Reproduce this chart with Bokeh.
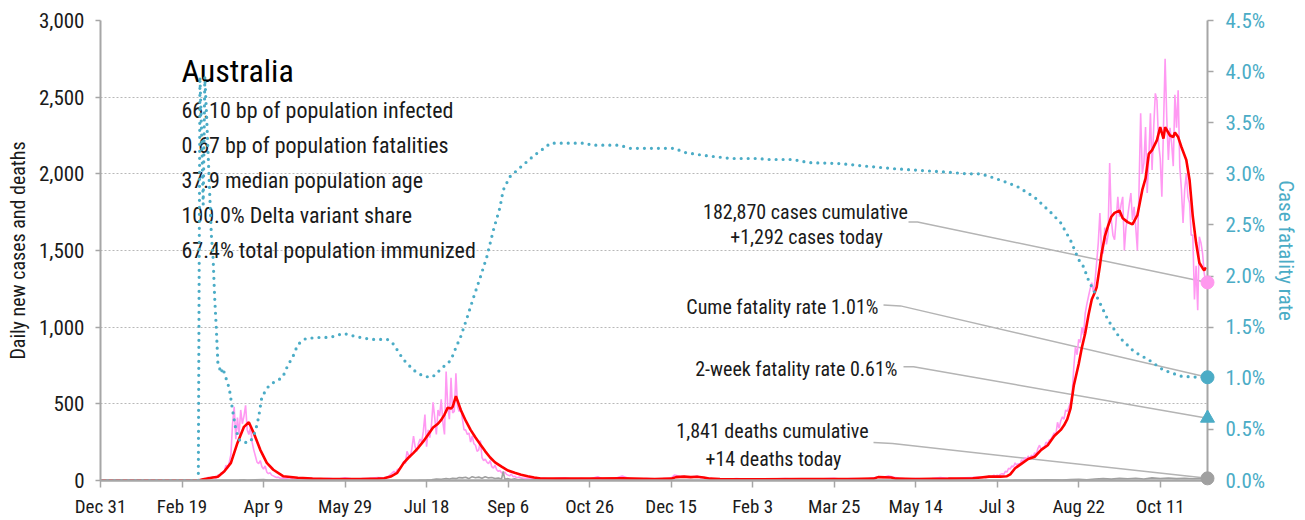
import pandas as pd
from bokeh.plotting import figure
from bokeh.models import Range1d, LinearAxis, FixedTicker, NumeralTickFormatter, PrintfTickFormatter, Label
from bokeh.embed import file_html
from bokeh.resources import INLINE

# ---------------- data ----------------
START = "2019-12-31"
tick_dates = ["2019-12-31", "2020-02-19", "2020-04-09", "2020-05-29", "2020-07-18", "2020-09-06",
              "2020-10-26", "2020-12-15", "2021-02-03", "2021-03-25", "2021-05-14", "2021-07-03",
              "2021-08-22", "2021-10-11"]
tick_labels = ["Dec 31", "Feb 19", "Apr 9", "May 29", "Jul 18", "Sep 6", "Oct 26", "Dec 15",
               "Feb 3", "Mar 25", "May 14", "Jul 3", "Aug 22", "Oct 11"]
last_day = 679

# daily new cases (pink), day offset from Dec 31 2019
case_days = [0, 25, 40, 55, 60,
             61, 62, 63, 64, 65, 66, 67, 68, 69, 70, 71, 72, 73, 74, 75, 76, 77, 78, 79, 80,
             81, 82, 83, 84, 85, 86, 87, 88, 89, 90, 91, 92, 93, 94, 95, 96, 97, 98, 99, 100,
             101, 102, 103, 104, 105, 106, 107, 108, 109, 110, 112, 114, 116, 118, 120, 123, 126, 130,
             135, 140, 145, 150, 155, 160, 165, 170, 173,
             175, 176, 177, 178, 179, 180, 181, 182, 183, 184, 185, 186, 187, 188, 189, 190,
             191, 192, 193, 194, 195, 196, 197, 198, 199, 200, 201, 202, 203, 204, 205, 206,
             207, 208, 209, 210, 211, 212, 213, 214, 215, 216, 217, 218, 219, 220, 221, 222,
             223, 224, 225, 226, 227, 228, 229, 230, 231, 232, 233, 234, 235, 236, 237, 238,
             239, 240, 241, 242, 243, 244, 245, 246, 247, 248, 249, 250, 251, 252, 253, 254,
             255, 256, 257, 258, 259, 260, 262, 265,
             268, 272, 276, 280, 285, 290, 295, 300, 305, 308, 315, 320, 325, 330, 335, 340, 345,
             350, 352, 354, 356, 358, 360, 362, 364, 366, 368, 370, 372, 375,
             380, 385, 390, 395, 400, 410, 420, 430, 440, 450, 455, 460, 470, 478, 480, 483, 486,
             490, 495, 500, 505, 510, 515, 520, 525, 530, 535, 540,
             541, 542, 543, 544, 545, 546, 547, 548, 549, 550, 551, 552, 553, 554, 555, 556,
             557, 558, 559, 560, 561, 562, 563, 564, 565, 566, 567, 568, 569, 570, 571, 572,
             573, 574, 575, 576, 577, 578, 579, 580, 581, 582, 583, 584, 585, 586, 587, 588,
             589, 590, 591, 592, 593, 594, 595, 596, 597, 598, 599, 600, 601, 602, 603, 604,
             605, 606, 607, 608, 609, 610, 611, 612, 613, 614, 615, 616, 617, 618, 619, 620,
             621, 622, 623, 624, 625, 626, 627, 628, 629, 630, 631, 632, 633, 634, 635, 636,
             637, 638, 639, 640, 641, 642, 643, 644, 645, 646, 647, 648, 649, 650, 651, 652,
             653, 654, 655, 656, 657, 658, 659, 660, 661, 662, 663, 664, 665, 666, 667, 668,
             669, 670, 671, 672, 673, 674, 675, 676, 677, 678]
case_values = [0, 4, 1, 0, 3,
               4, 6, 10, 12, 8, 22, 11, 18, 25, 20, 15, 37, 28, 50, 45, 65, 100, 80, 120, 170,
               370, 480, 270, 410, 300, 460, 370, 420, 490, 330, 300, 350, 250, 200, 160, 120, 110, 130, 90, 75,
               95, 55, 45, 50, 35, 30, 25, 20, 22, 15, 16, 12, 20, 10, 8, 15, 10, 12,
               10, 14, 8, 18, 10, 12, 15, 20, 18,
               20, 25, 30, 40, 50, 60, 45, 70, 75, 80, 100, 125, 110, 190, 165, 150,
               210, 290, 220, 190, 240, 270, 250, 320, 430, 220, 330, 280, 360, 510, 410, 300,
               460, 420, 530, 380, 300, 710, 480, 400, 670, 440, 450, 700, 480, 450, 470, 400,
               330, 330, 300, 310, 250, 290, 240, 230, 190, 200, 260, 150, 130, 140, 120, 110,
               130, 90, 80, 100, 70, 60, 65, 50, 45, 55, 40, 35, 30, 42, 25, 28,
               20, 20, 22, 18, 15, 14, 12, 12,
               12, 15, 10, 14, 18, 8, 12, 10, 25, 10, 12, 30, 10, 8, 12, 10, 12,
               15, 35, 30, 25, 28, 20, 22, 25, 30, 18, 20, 15, 12,
               10, 8, 12, 10, 8, 10, 12, 8, 10, 14, 8, 12, 10, 25, 20, 30, 22,
               15, 10, 12, 10, 12, 20, 15, 12, 18, 20, 22,
               20, 25, 18, 22, 30, 25, 28, 35, 24, 35, 30, 40, 45, 38, 60, 55,
               80, 75, 95, 90, 115, 100, 110, 105, 135, 120, 150, 130, 160, 140, 165, 155,
               180, 170, 210, 230, 200, 215, 220, 250, 240, 265, 270, 290, 310, 300, 380, 340,
               390, 415, 400, 460, 450, 480, 510, 570, 740, 870, 820, 920, 900, 1000, 950, 1090,
               1150, 1200, 1250, 1290, 1230, 1300, 1420, 1550, 1745, 1500, 1480, 1650, 1540, 1600, 2070, 1700,
               1600, 1570, 1700, 1850, 1720, 1800, 1850, 1500, 1650, 1720, 1800, 1875, 1700, 1785, 1650, 1500,
               1900, 2395, 2000, 2070, 2305, 1875, 2100, 2395, 2025, 2300, 2525, 2480, 2200, 2100, 1850, 2300,
               2750, 2370, 2090, 2300, 2200, 2050, 2515, 2300, 2545, 2045, 1900, 1680, 1895, 2000, 1850, 1810,
               1600, 1600, 1180, 1400, 1110, 1590, 1550, 1480, 1350, 1292]

# 7-day average of new cases (red)
avg_days = [0, 60, 63, 68, 72, 76, 80, 84, 88, 91, 94, 98, 102, 106, 112, 121, 130, 140, 150, 160,
            170, 174, 178, 182, 186, 189, 192, 195, 198, 201, 204, 207, 209, 211, 213, 215, 216,
            218, 219, 221, 224, 227, 230, 233, 236, 239, 242, 246, 250, 254, 258, 262, 266, 270,
            280, 300, 320, 340, 350, 353, 358, 362, 366, 370, 374, 380, 400, 430, 460, 474, 477,
            485, 488, 500, 520, 535, 540, 545, 552, 556, 558, 561, 565, 569, 573, 577, 581, 585,
            589, 591, 593, 595, 597, 600, 602, 604, 606, 608, 610, 611, 613, 614, 616, 618, 620,
            622, 625, 627, 630, 633, 636, 639, 641, 643, 645, 648, 650, 652, 653, 656, 658, 659,
            661, 663, 666, 668, 670, 672, 674, 676, 677, 678]
avg_values = [0, 0, 8, 18, 25, 60, 115, 245, 350, 380, 310, 200, 115, 70, 28, 18, 12, 10, 9, 10,
              12, 15, 26, 50, 115, 150, 180, 215, 255, 300, 345, 370, 395, 430, 475, 470, 480,
              550, 520, 460, 390, 330, 280, 235, 190, 150, 118, 90, 65, 50, 38, 28, 20, 13,
              12, 13, 14, 10, 12, 22, 25, 22, 24, 20, 12, 10, 8, 9, 10, 12, 22,
              20, 12, 10, 12, 15, 20, 25, 25, 28, 40, 80, 110, 140, 155, 200, 230, 290,
              330, 360, 400, 470, 620, 760, 870, 960, 1080, 1180, 1230, 1260, 1400, 1480, 1590, 1660, 1720,
              1745, 1760, 1710, 1685, 1670, 1730, 1895, 1970, 2130, 2155, 2220, 2305, 2230, 2305, 2250, 2240, 2270,
              2240, 2175, 2090, 1960, 1720, 1550, 1420, 1385, 1370, 1390]

# daily deaths (grey)
death_days = [0, 60, 61, 70, 75, 80, 85, 88, 90, 95, 100, 103, 106, 110, 115, 120, 150, 180, 195,
              200, 203, 206, 209, 212, 214, 216, 218, 220, 222, 224, 226, 228, 230, 232, 234, 236,
              238, 240, 242, 244, 246, 247, 248, 250, 252, 254, 256, 258, 260, 263, 266, 270, 275,
              300, 400, 500, 560, 570, 580, 590, 595, 600, 605, 610, 615, 620, 625, 630, 635, 640,
              645, 650, 655, 660, 665, 670, 675, 678]
death_values = [0, 0, 1, 0, 1, 2, 3, 5, 2, 4, 6, 3, 5, 2, 1, 0, 0, 0, 1,
                3, 5, 10, 8, 13, 10, 15, 12, 19, 17, 21, 12, 25, 18, 22, 15, 25,
                17, 20, 13, 16, 10, 59, 8, 12, 7, 11, 5, 8, 3, 2, 4, 1, 0,
                0, 0, 0, 1, 2, 4, 3, 6, 8, 5, 10, 12, 9, 14, 11, 15, 10,
                17, 13, 16, 12, 15, 11, 13, 14]

# case fatality rate, % (blue dotted, right axis)
cfr_days = [0, 60, 61, 62, 63, 64, 65, 66, 67, 68, 69, 70, 71, 72, 73, 74, 75, 77, 79, 81, 83,
            85, 88, 92, 95, 97, 99, 103, 107, 111, 112, 115, 118, 121, 126, 135, 141, 149, 156,
            166, 176, 180, 183, 186, 192, 198, 203, 206, 209, 212, 215, 218, 221, 225, 229, 233,
            237, 241, 245, 247, 251, 258, 266, 272, 276, 298, 301, 318, 325, 352, 358, 370, 387,
            404, 409, 425, 434, 454, 466, 487, 516, 532, 540, 548, 557, 563, 573, 583, 589, 595,
            600, 603, 606, 612, 618, 625, 634, 643, 652, 663, 673, 678]
cfr_values = [0, 0, 3.95, 3.4, 2.7, 3.95, 3.6, 3.2, 2.8, 2.4, 2.2, 1.8, 1.5, 1.15, 1.1, 1.05, 1.1, 1.0, 0.9, 0.69, 0.5,
              0.4, 0.37, 0.38, 0.48, 0.62, 0.82, 0.92, 0.97, 1.0, 1.02, 1.13, 1.21, 1.33, 1.39, 1.40, 1.40, 1.44, 1.41,
              1.38, 1.38, 1.33, 1.25, 1.18, 1.08, 1.02, 1.01, 1.04, 1.10, 1.13, 1.18, 1.30, 1.41, 1.60, 1.80, 1.99,
              2.19, 2.45, 2.67, 2.84, 2.97, 3.07, 3.18, 3.25, 3.30, 3.30, 3.28, 3.28, 3.25, 3.25, 3.21, 3.18, 3.15,
              3.15, 3.14, 3.14, 3.11, 3.10, 3.08, 3.05, 3.02, 3.0, 3.0, 2.96, 2.91, 2.87, 2.77, 2.62, 2.52, 2.35,
              2.16, 2.09, 1.96, 1.77, 1.57, 1.40, 1.26, 1.18, 1.08, 1.02, 1.01, 1.01]

country = "Australia"
stats = ["66.10 bp of population infected", "0.67 bp of population fatalities",
         "37.9 median population age", "100.0% Delta variant share",
         "67.4% total population immunized"]
cases_cumulative = 182870
cases_today = 1292
deaths_cumulative = 1841
deaths_today = 14
cume_cfr = 1.01
twoweek_cfr = 0.61

# ---------------- style ----------------
FONT = "Roboto Condensed, DejaVu Sans Condensed, Liberation Sans Narrow, Roboto, sans-serif"
PINK = "#FF99F2"
RED = "#FF0000"
BLUE = "#4BACC6"
GREY = "#A6A6A6"
TXT = "#1a1a1a"

LEFT_MAX = 3000
RIGHT_MAX = 4.5
K = LEFT_MAX / RIGHT_MAX

# frame: page x 100..1207, y 20..481
p = figure(width=1305, height=520, x_range=Range1d(0, last_day), y_range=Range1d(0, LEFT_MAX),
           output_backend="svg", toolbar_location=None,
           min_border_left=100, min_border_right=98, min_border_top=20, min_border_bottom=39)
p.outline_line_color = None
p.background_fill_color = "white"
p.border_fill_color = "white"

tick_days = [int((pd.Timestamp(d) - pd.Timestamp(START)).days) for d in tick_dates]
p.xaxis.ticker = FixedTicker(ticks=tick_days)
p.xaxis.major_label_overrides = {d: l for d, l in zip(tick_days, tick_labels)}
p.xaxis.minor_tick_line_color = None
p.xaxis.axis_line_color = GREY
p.xaxis.axis_line_width = 2.5
p.xaxis.major_tick_line_color = GREY
p.xaxis.major_tick_line_width = 1.5
p.xaxis.major_tick_in = 0
p.xaxis.major_tick_out = 7
p.xaxis.major_label_standoff = 7
p.xaxis.major_label_text_font = FONT
p.xaxis.major_label_text_font_size = "19px"
p.xaxis.major_label_text_color = TXT

p.yaxis.ticker = FixedTicker(ticks=list(range(0, LEFT_MAX + 1, 500)))
p.yaxis.formatter = NumeralTickFormatter(format="0,0")
p.yaxis.minor_tick_line_color = None
p.yaxis.axis_line_color = GREY
p.yaxis.axis_line_width = 2
p.yaxis.major_tick_line_color = GREY
p.yaxis.major_tick_line_width = 1.5
p.yaxis.major_tick_in = 0
p.yaxis.major_tick_out = 5
p.yaxis.major_label_standoff = 11
p.yaxis.major_label_text_font = FONT
p.yaxis.major_label_text_font_size = "21px"
p.yaxis.major_label_text_color = TXT
p.yaxis.axis_label = "Daily new cases and deaths"
p.yaxis.axis_label_text_font = FONT
p.yaxis.axis_label_text_font_size = "20px"
p.yaxis.axis_label_text_font_style = "normal"
p.yaxis.axis_label_text_color = TXT
p.yaxis.axis_label_standoff = 6

p.xgrid.visible = False
p.ygrid.grid_line_color = "#B8B8B8"
p.ygrid.grid_line_dash = "2 2"
p.ygrid.grid_line_width = 1

p.extra_y_ranges = {"cfr": Range1d(0, RIGHT_MAX)}
raxis = LinearAxis(y_range_name="cfr", ticker=FixedTicker(ticks=[i * 0.5 for i in range(10)]),
                   formatter=PrintfTickFormatter(format="%.1f%%"))
raxis.minor_tick_line_color = None
raxis.axis_line_color = GREY
raxis.axis_line_width = 2
raxis.major_tick_line_color = GREY
raxis.major_tick_line_width = 1.5
raxis.major_tick_in = 0
raxis.major_tick_out = 6
raxis.major_label_standoff = 12
raxis.major_label_text_font = FONT
raxis.major_label_text_font_size = "21px"
raxis.major_label_text_color = BLUE
raxis.axis_label = "Case fatality rate"
raxis.axis_label_text_font = FONT
raxis.axis_label_text_font_size = "21px"
raxis.axis_label_text_font_style = "normal"
raxis.axis_label_text_color = BLUE
raxis.axis_label_standoff = 6
p.add_layout(raxis, "right")

# ---------- helpers: page pixel -> data coordinates (frame spans x 100..1207, y 20..481) ----------
PX_DAY = 1107 / last_day
def dx(px):
    return (px - 100) / PX_DAY
def dy(py):
    return (481 - py) * LEFT_MAX / 461

# baseline correction for text (Label baseline sits lower than the target by ~0.36 em)
def tb(py, fs):
    return dy(py - 0.36 * fs)

# ---------- text block (under the data) ----------
p.add_layout(Label(x=dx(181), y=tb(82, 32), text=country, text_font=FONT, text_font_size="32px",
                   text_color="black", text_baseline="alphabetic", level="underlay"))
for i, s in enumerate(stats):
    p.add_layout(Label(x=dx(181), y=tb(118 + 35 * i, 22), text=s, text_font=FONT, text_font_size="22px",
                       text_color=TXT, text_baseline="alphabetic", level="underlay"))

# ---------- connector lines ----------
CONN = "#B4B4B4"
conn_specs = [((908, 222), (917, 222), cases_today),
              ((883, 305), (900, 306), cume_cfr * K),
              ((903, 367), (913, 367), twoweek_cfr * K),
              ((873, 443), (892, 444), deaths_today)]
for (a, b, yend) in conn_specs:
    p.line([dx(a[0]), dx(b[0]), last_day], [dy(a[1]), dy(b[1]), yend], line_color=CONN, line_width=1.5)

# ---------- data series ----------
p.line(case_days, case_values, line_color=PINK, line_width=1.6)
p.line(death_days, death_values, line_color="#A0A0A0", line_width=1.6)
p.line(avg_days, avg_values, line_color=RED, line_width=2.6)
p.line(cfr_days, cfr_values, y_range_name="cfr", line_color=BLUE, line_width=3.2,
       line_dash="0 7", line_cap="round")

# end markers (overlay level so they are not clipped by the frame)
p.scatter([last_day], [cases_today], size=13, color="#FF99EE", level="overlay")
p.scatter([last_day], [cume_cfr], y_range_name="cfr", size=13, color=BLUE, level="overlay")
p.scatter([last_day], [twoweek_cfr], y_range_name="cfr", marker="triangle", size=14, color=BLUE, level="overlay")
p.scatter([last_day], [deaths_today], size=13, color="#A0A0A0", level="overlay")

# ---------- annotation texts ----------
def lab(x, y, t, align):
    p.add_layout(Label(x=dx(x), y=tb(y, 20), text=t, text_font=FONT, text_font_size="20px",
                       text_color=TXT, text_baseline="alphabetic", text_align=align))

lab(805, 219, f"{cases_cumulative:,} cases cumulative", "center")
lab(806, 244, f"+{cases_today:,} cases today", "center")
lab(878, 314, f"Cume fatality rate {cume_cfr:.2f}%", "right")
lab(897, 376, f"2-week fatality rate {twoweek_cfr:.2f}%", "right")
lab(772, 439, f"{deaths_cumulative:,} deaths cumulative", "center")
lab(773, 467, f"+{deaths_today:,} deaths today", "center")

open("out.html", "w").write(file_html(p, INLINE))
